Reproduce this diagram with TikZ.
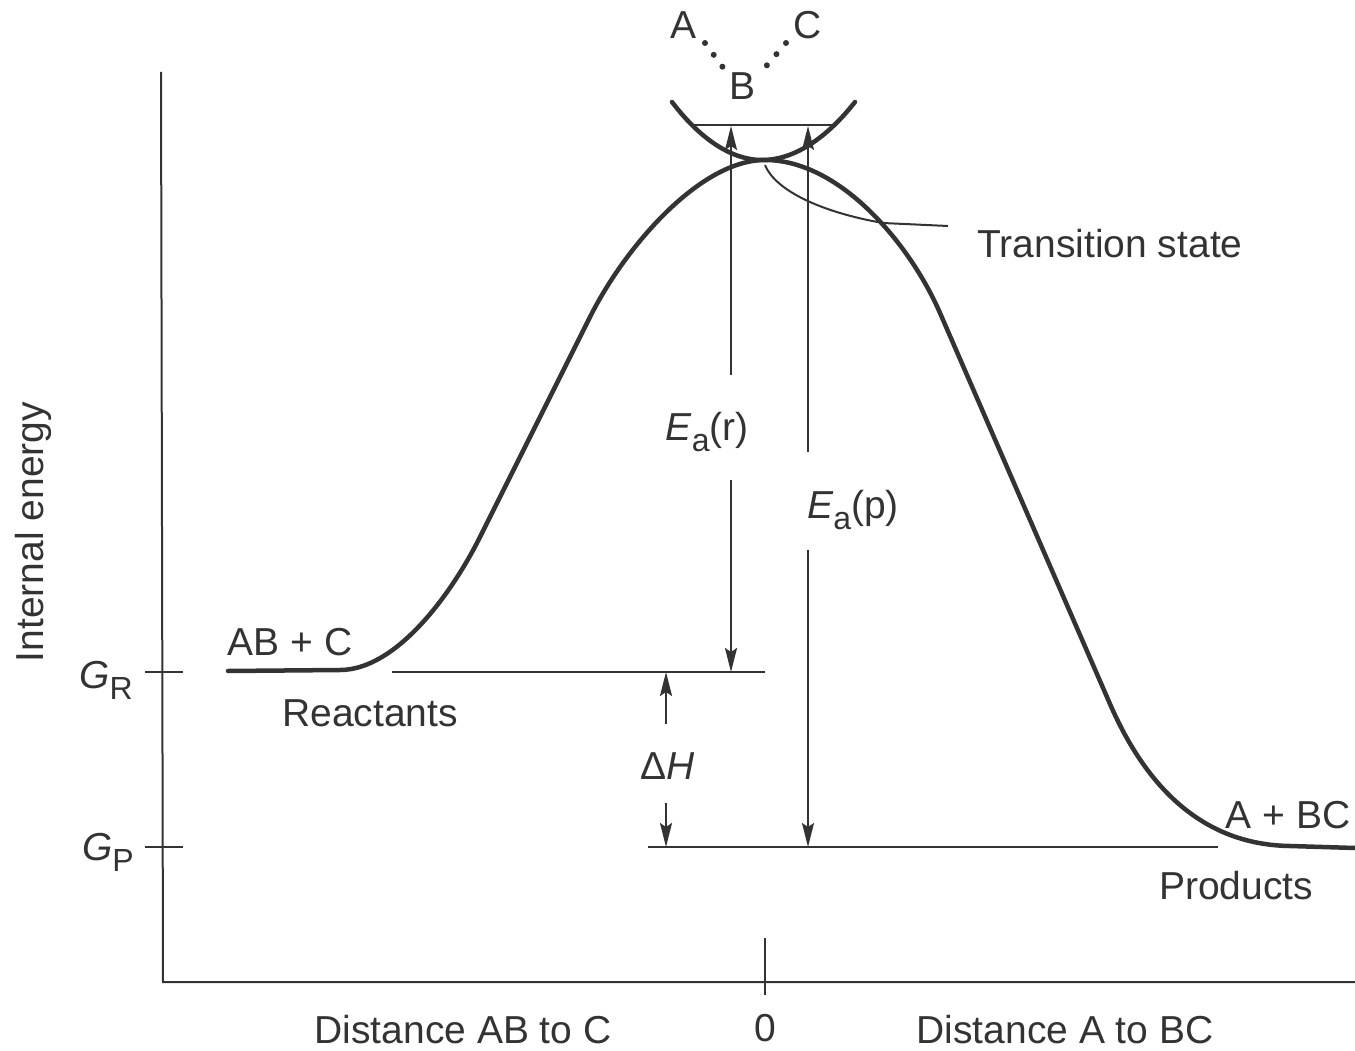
\documentclass[tikz,border=0pt]{standalone}
\usepackage{fontspec}
\setmainfont{Liberation Sans}
\usetikzlibrary{arrows.meta}
\definecolor{ink}{gray}{0.2}
\newcommand{\lowsub}[1]{\raisebox{-0.28em}{\fontsize{32}{32}\selectfont #1}}
\begin{document}
\begin{tikzpicture}[x=1pt,y=-1pt,
  lbl/.style={font=\fontsize{39}{46}\selectfont, text=ink, inner sep=0pt},
  ln/.style={draw=ink, line width=2pt},
  curvestroke/.style={draw=ink, line width=4.5pt, line cap=round, line join=round},
  tipend/.style={-{Stealth[length=24pt,width=12pt,inset=4pt]}},
  tipstart/.style={{Stealth[length=24pt,width=12pt,inset=4pt]}-},
  dotbond/.style={draw=ink, line width=6pt, line cap=round, dash pattern=on 0pt off 14.7pt}
]
\useasboundingbox (0,0) rectangle (1355,1051);

% axes
\coordinate (ytop) at (161,72);
\coordinate (orig) at (163,982);
\coordinate (xend) at (1355,982);
\draw[ln] (ytop) -- (orig) -- (xend);
\coordinate (t0a) at (765,938);
\coordinate (t0b) at (765,995);
\draw[ln] (t0a) -- (t0b);
\coordinate (grA) at (145,672); \coordinate (grB) at (183,672);
\coordinate (gpA) at (145,847); \coordinate (gpB) at (183,847);
\draw[ln] (grA) -- (grB);
\draw[ln] (gpA) -- (gpB);

% axis labels
\node[lbl, rotate=90] (ie) at (33,532) {Internal energy};
\node[lbl] (GR) at (106,680) {\textit{G}\lowsub{R}};
\node[lbl] (GP) at (108,852) {\textit{G}\lowsub{P}};
\node[lbl] (dab) at (463,1030) {Distance AB to C};
\node[lbl] (zero) at (765,1028) {0};
\node[lbl] (dbc) at (1065,1030) {Distance A to BC};

% energy profile
\coordinate (c0) at (228,671);
\coordinate (c1) at (340,670);
\coordinate (c2) at (480,537);
\coordinate (c3) at (590,317);
\coordinate (peak) at (765,160);
\coordinate (c4) at (940,313);
\coordinate (c5) at (1110,704);
\coordinate (c6) at (1290,846);
\coordinate (c7) at (1355,848);
\draw[curvestroke] (c0) -- (c1)
  .. controls (395,670) and (450,597) .. (c2)
  -- (c3)
  .. controls (625,247) and (700,160) .. (peak)
  .. controls (840,160) and (910,244) .. (c4)
  -- (c5)
  .. controls (1155,807.5) and (1220,845) .. (c6)
  -- (c7);

% level lines
\coordinate (gr1) at (392,672); \coordinate (gr2) at (765,672);
\coordinate (gp1) at (648,847); \coordinate (gp2) at (1218,847);
\draw[ln] (gr1) -- (gr2);
\draw[ln] (gp1) -- (gp2);

% transition state parabola and line
\draw[curvestroke] (672,102) parabola bend (762,160) (855,102);
\coordinate (ts1) at (693,125); \coordinate (ts2) at (832,125);
\draw[ln] (ts1) -- (ts2);

% Ea(r)
\coordinate (ear0) at (731,126); \coordinate (ear1) at (731,375);
\coordinate (ear2) at (731,480); \coordinate (ear3) at (731,672);
\draw[ln, tipstart] (ear0) -- (ear1);
\draw[ln, tipend] (ear2) -- (ear3);
\node[lbl] (EaR) at (707,432) {\textit{E}\lowsub{a}(r)};

% Ea(p)
\coordinate (eap0) at (808,126); \coordinate (eap1) at (808,452);
\coordinate (eap2) at (808,550); \coordinate (eap3) at (808,847);
\draw[ln, tipstart] (eap0) -- (eap1);
\draw[ln, tipend] (eap2) -- (eap3);
\node[lbl] (EaP) at (853,510) {\textit{E}\lowsub{a}(p)};

% Delta H
\coordinate (dh0) at (666,724); \coordinate (dh1) at (666,672);
\coordinate (dh2) at (666,803); \coordinate (dh3) at (666,847);
\draw[ln, tipend] (dh0) -- (dh1);
\draw[ln, tipend] (dh2) -- (dh3);
\node[lbl] (DH) at (668,766) {Δ\textit{H}};

% species labels
\node[lbl] (abc) at (290,642) {AB + C};
\node[lbl] (react) at (370,713) {Reactants};
\node[lbl] (abc2) at (1288,815) {A + BC};
\node[lbl] (prod) at (1236,886) {Products};

% transition state labels
\node[lbl] (tsl) at (1110,244) {Transition state};
\coordinate (lead0) at (948,226);
\coordinate (lead1) at (883,223);
\coordinate (lead2) at (765,165);
\draw[ln] (lead0) -- (lead1) .. controls (820,212) and (775,190) .. (lead2);

\node[lbl] (nA) at (683,25) {A};
\node[lbl] (nC) at (808,25) {C};
\node[lbl] (nB) at (742,86) {B};
\coordinate (dA1) at (705,43); \coordinate (dA2) at (723,67.5);
\coordinate (dC1) at (786,43); \coordinate (dC2) at (765,67.5);
\draw[dotbond] (dA1) -- (dA2);
\draw[dotbond] (dC1) -- (dC2);
\end{tikzpicture}
\end{document}
